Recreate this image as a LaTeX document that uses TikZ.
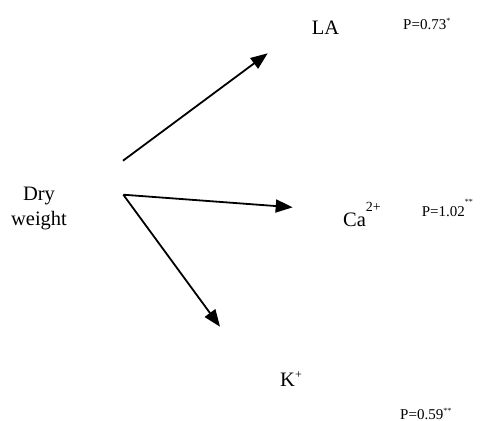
\documentclass[tikz,border=0pt]{standalone}
\usepackage{fontspec}
\setmainfont{Liberation Serif}
\usetikzlibrary{arrows.meta}
\newcommand{\bigtext}{\fontsize{20.5}{25}\selectfont}
\newcommand{\ptext}{\fontsize{15}{15}\selectfont}
\newcommand{\stars}[2]{\raisebox{#1}{\fontsize{8}{8}\selectfont #2}}
\begin{document}
\begin{tikzpicture}[x=1pt,y=-1pt,
  link/.style={line width=1.8pt,-{Triangle[length=17pt,width=13pt]}},
  lbl/.style={inner sep=0pt,anchor=base west}]
\useasboundingbox (0,0) rectangle (480,421);
\coordinate (up) at (123,160.7);
\coordinate (vx) at (123.3,194.7);
\coordinate (tipla) at (267.7,53.3);
\coordinate (tipca) at (292.7,207.3);
\coordinate (tipk) at (220,326.7);
\draw[link] (up) -- (tipla);
\draw[link] (vx) -- (tipca);
\draw[link] (vx) -- (tipk);
\node[inner sep=0pt,anchor=base,align=center,font=\bigtext] (dry) at (39,225) {Dry\\weight};
\node[lbl,font=\bigtext] (la) at (311.7,34) {LA};
\node[lbl,font=\bigtext] (ca) at (343,226) {Ca\raisebox{15pt}{\fontsize{14}{14}\selectfont 2+}};
\node[lbl,font=\bigtext] (k) at (280,386.7) {K\raisebox{8.7pt}{\fontsize{12}{12}\selectfont +}};
\node[lbl,font=\ptext] (pla) at (403,29.3) {P=0.73\stars{5.5pt}{*}};
\node[lbl,font=\ptext] (pca) at (421.7,216) {P=1.02\stars{12pt}{**}};
\node[lbl,font=\ptext] (pk) at (400,419) {P=0.59\stars{5.5pt}{**}};
\end{tikzpicture}
\end{document}
